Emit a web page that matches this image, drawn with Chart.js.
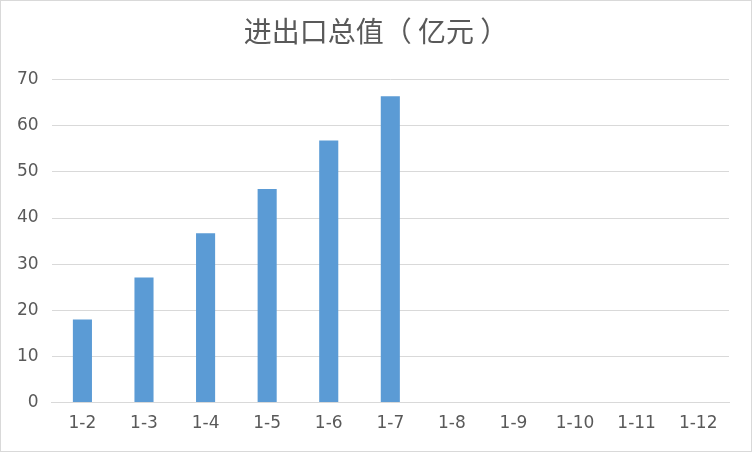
<!DOCTYPE html>
<html>
  <head>
    <meta charset="utf-8">
    <title>进出口总值</title>
    <script src="https://cdn.jsdelivr.net/npm/chart.js@4/dist/chart.umd.min.js"></script>
    <style>
      html, body { margin: 0; padding: 0; background: #fff; }
      #box { width: 752px; height: 452px; box-sizing: border-box; border: 1px solid #d9d9d9; }
    </style>
  </head>
  <body>
    <div id="box">
      <canvas id="myChart" width="750" height="450"></canvas>
    </div>

    <script type="text/javascript">
      // data
      var labels = ['1-2', '1-3', '1-4', '1-5', '1-6', '1-7', '1-8', '1-9', '1-10', '1-11', '1-12'];
      var values = [18, 27.1, 36.7, 46.3, 56.8, 66.4, null, null, null, null, null];
      var yTicks = [0, 10, 20, 30, 40, 50, 60, 70];

      var ctx = document.getElementById('myChart').getContext('2d');
      var chart = new Chart(ctx, {
        type: 'bar',
        data: {
          labels: labels,
          datasets: [{
            label: '进出口总值',
            backgroundColor: '#5b9bd5',
            data: values,
            categoryPercentage: 1,
            barPercentage: 0.31
          }]
        },
        options: {
          responsive: false,
          animation: false,
          layout: { padding: { left: 3, right: 3, top: 0, bottom: 6 } },
          plugins: {
            legend: { display: false },
            tooltip: { enabled: false },
            title: {
              display: true,
              text: '进出口总值（ 亿元 ）',
              color: '#595959',
              font: { family: '"Noto Sans CJK SC", sans-serif', size: 28, weight: 'normal' },
              padding: { top: 14, bottom: 31 }
            }
          },
          scales: {
            x: {
              grid: { display: false, drawTicks: false },
              border: { display: true, color: '#d9d9d9', width: 1 },
              ticks: {
                color: '#595959',
                font: { family: '"DejaVu Sans", sans-serif', size: 17 },
                padding: 11,
                maxRotation: 0,
                autoSkip: false
              }
            },
            y: {
              min: 0,
              max: 70,
              afterBuildTicks: function(axis) {
                axis.ticks = yTicks.map(function(v) { return { value: v }; });
              },
              grid: { color: '#d9d9d9', lineWidth: 1, drawTicks: false },
              border: { display: false },
              ticks: {
                color: '#595959',
                font: { family: '"DejaVu Sans", sans-serif', size: 17 },
                padding: 13
              }
            },
            // empty right-hand spacer so the title stays centred on the whole chart
            spacer: {
              type: 'linear',
              position: 'right',
              grid: { display: false, drawTicks: false },
              border: { display: false },
              ticks: { display: false },
              afterFit: function(axis) { axis.width = 19; }
            }
          }
        }
      });
    </script>
  </body>
</html>
